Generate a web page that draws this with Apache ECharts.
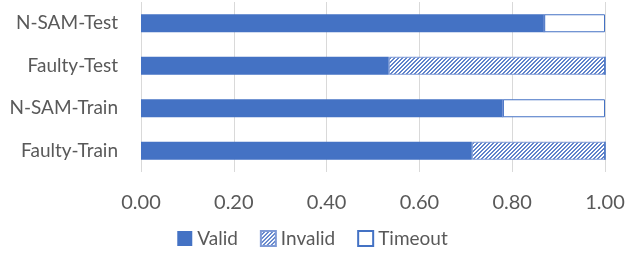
<!DOCTYPE html>
<html lang="en">
<head>
<meta charset="UTF-8">
<title>Valid / Invalid / Timeout</title>
<style>
    html, body { margin: 0; padding: 0; background: #fff; }
    #app { width: 625px; height: 254px; }
</style>
<script src="https://cdn.jsdelivr.net/npm/echarts@6/dist/echarts.min.js"></script>
</head>
<body>
<div id="app"></div>
<script>
    // categories from bottom to top
    var categories = ['Faulty-Train', 'N-SAM-Train', 'Faulty-Test', 'N-SAM-Test']
    var validData = [0.713, 0.780, 0.534, 0.869]
    var invalidData = [0.287, 0, 0.466, 0]
    var timeoutData = [0, 0.220, 0, 0.131]

    var blue = '#4472C4'
    var font = 'Lato, "Open Sans", sans-serif'

    // hatch pattern for "Invalid"
    var hatch = document.createElement('canvas')
    hatch.width = 4
    hatch.height = 4
    var ctx = hatch.getContext('2d')
    ctx.fillStyle = '#ffffff'
    ctx.fillRect(0, 0, 4, 4)
    ctx.fillStyle = '#5f83cb'
    for (var i = 0; i < 4; i++) {
        ctx.fillRect(i, 3 - i, 1, 1)
        ctx.fillRect(i, (4 - i) % 4, 1, 1)
    }

    var chart = echarts.init(document.getElementById('app'))
    var option = {
        animation: false,
        textStyle: { fontFamily: font },
        grid: { left: 141, right: 20, top: 2, bottom: 82, outerBoundsMode: 'none' },
        legend: {
            bottom: 1,
            left: 'center',
            itemWidth: 15,
            itemHeight: 15,
            itemGap: 22,
            icon: 'rect',
            textStyle: { fontSize: 19, color: '#595959', fontFamily: font },
            data: ['Valid', 'Invalid', 'Timeout']
        },
        xAxis: {
            type: 'value',
            min: 0,
            max: 1,
            interval: 0.2,
            axisLine: { show: false },
            axisTick: { show: false },
            splitLine: { lineStyle: { color: '#d9d9d9', width: 1 } },
            axisLabel: {
                fontSize: 20,
                color: '#595959',
                margin: 21,
                formatter: function (v) { return v.toFixed(2) }
            }
        },
        yAxis: {
            type: 'category',
            data: categories,
            axisLine: { show: false },
            axisTick: { show: false },
            axisLabel: { fontSize: 19, color: '#595959', margin: 23 }
        },
        series: [
            {
                name: 'Valid', type: 'bar', stack: 'all', barWidth: 18,
                itemStyle: { color: blue },
                data: validData
            },
            {
                name: 'Invalid', type: 'bar', stack: 'all', barWidth: 18,
                itemStyle: {
                    color: { image: hatch, repeat: 'repeat' },
                    borderColor: '#7f9ad6', borderWidth: 1
                },
                data: invalidData
            },
            {
                name: 'Timeout', type: 'bar', stack: 'all', barWidth: 18,
                itemStyle: { color: '#ffffff', borderColor: blue, borderWidth: 1 },
                data: timeoutData
            }
        ]
    }
    chart.setOption(option)
</script>
</body>
</html>
